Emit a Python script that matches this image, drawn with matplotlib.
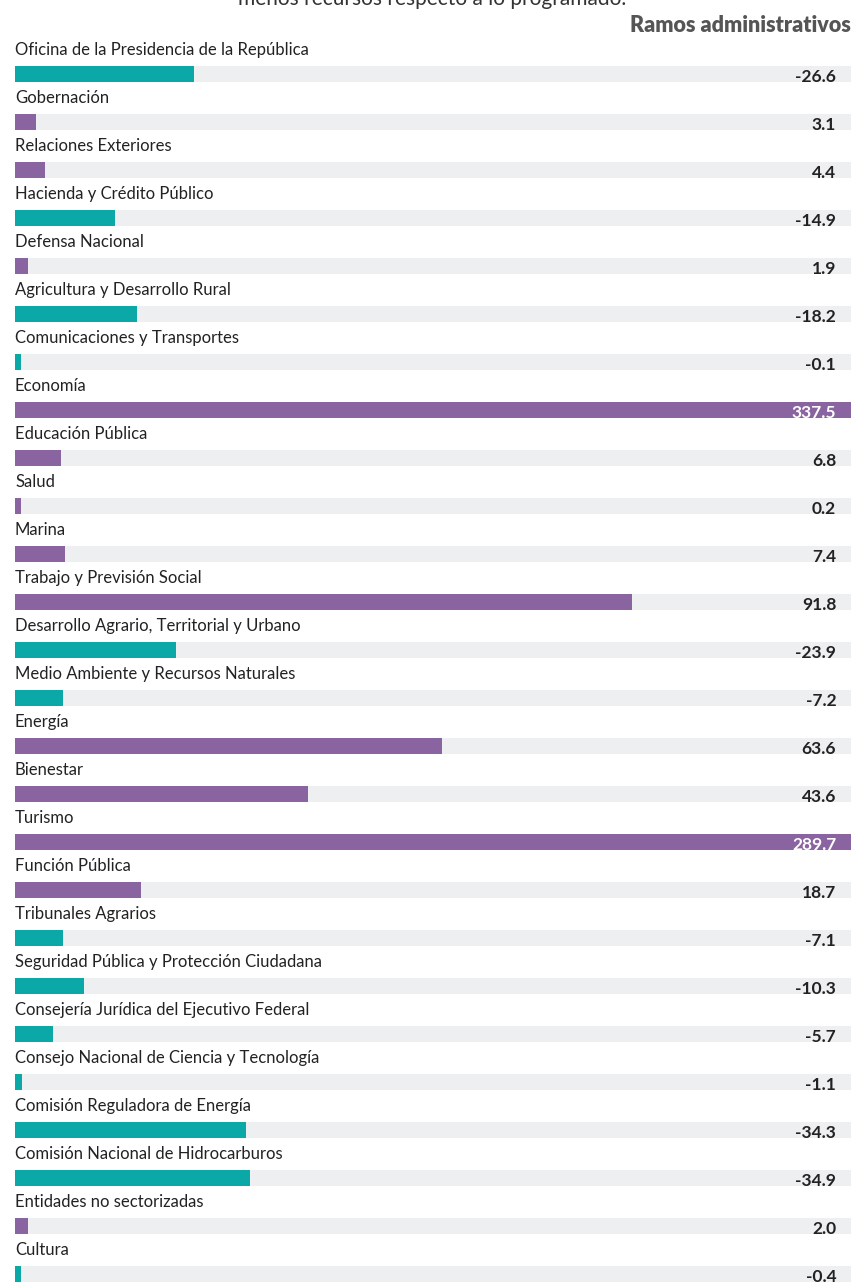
import numpy as np
import matplotlib
matplotlib.use('Agg')
from matplotlib import pyplot as plt

# ~~~~~~~~~~~~~~~~~~~~ data ~~~~~~~~~~~~~~~~~~~~
ramos = ['Oficina de la Presidencia de la República', 'Gobernación',
         'Relaciones Exteriores', 'Hacienda y Crédito Público',
         'Defensa Nacional', 'Agricultura y Desarrollo Rural',
         'Comunicaciones y Transportes', 'Economía', 'Educación Pública',
         'Salud', 'Marina', 'Trabajo y Previsión Social',
         'Desarrollo Agrario, Territorial y Urbano',
         'Medio Ambiente y Recursos Naturales', 'Energía', 'Bienestar',
         'Turismo', 'Función Pública', 'Tribunales Agrarios',
         'Seguridad Pública y Protección Ciudadana',
         'Consejería Jurídica del Ejecutivo Federal',
         'Consejo Nacional de Ciencia y Tecnología',
         'Comisión Reguladora de Energía',
         'Comisión Nacional de Hidrocarburos',
         'Entidades no sectorizadas', 'Cultura']
variacion = [-26.6, 3.1, 4.4, -14.9, 1.9, -18.2, -0.1, 337.5, 6.8, 0.2, 7.4,
             91.8, -23.9, -7.2, 63.6, 43.6, 289.7, 18.7, -7.1, -10.3, -5.7,
             -1.1, -34.3, -34.9, 2.0, -0.4]
etiquetas = ['-26.6', '3.1', '4.4', '-14.9', '1.9', '-18.2', '-0.1', '337.5',
             '6.8', '0.2', '7.4', '91.8', '-23.9', '-7.2', '63.6', '43.6',
             '289.7', '18.7', '-7.1', '-10.3', '-5.7', '-1.1', '-34.3',
             '-34.9', '2.0', '-0.4']

# ~~~~~~~~~~~~~~~~~~~~ style ~~~~~~~~~~~~~~~~~~~~
teal = '#0aa8a6'
purple = '#8a64a0'
track = '#eeeff1'
xmax = 124.4          # bars longer than this are cut at the edge
min_w = 0.9           # tiny values still show a sliver
plt.rcParams['font.family'] = ['Lato', 'DejaVu Sans']

fig = plt.figure(figsize=(8.51, 12.83), dpi=100)
ax = fig.add_axes([15 / 851, 0, 836 / 851, 1])
ax.set_xlim(0, xmax)
ax.set_ylim((1283 - 74) / 48, -74 / 48)
ax.axis('off')

y = np.arange(len(ramos))
v = np.array(variacion)
w = np.clip(np.maximum(np.abs(v), min_w), 0, xmax)
cols = [teal if x < 0 else purple for x in v]

ax.barh(y, xmax, height=0.34, color=track, zorder=1)
ax.barh(y, w, height=0.34, color=cols, zorder=2)

for i in range(len(ramos)):
    ax.text(0, y[i] - 0.49, ramos[i], fontsize=12, color='#222222',
            ha='left', va='center')
    tc = 'white' if abs(v[i]) > xmax else '#222222'
    ax.text(xmax - 2.2, y[i] + 0.06, etiquetas[i],
            fontsize=12.5, fontweight='bold', color=tc, ha='right',
            va='center', zorder=3)

fig.text(1.0, 1 - 25 / 1283, 'Ramos administrativos', fontsize=15.5,
         fontweight='heavy', color='#555555', ha='right', va='center')
fig.text(432 / 851, 1 + 1 / 1283, 'menos recursos respecto a lo programado.',
         fontsize=15, color='#333333', ha='center', va='center')

fig.savefig('out.png', dpi=100)
